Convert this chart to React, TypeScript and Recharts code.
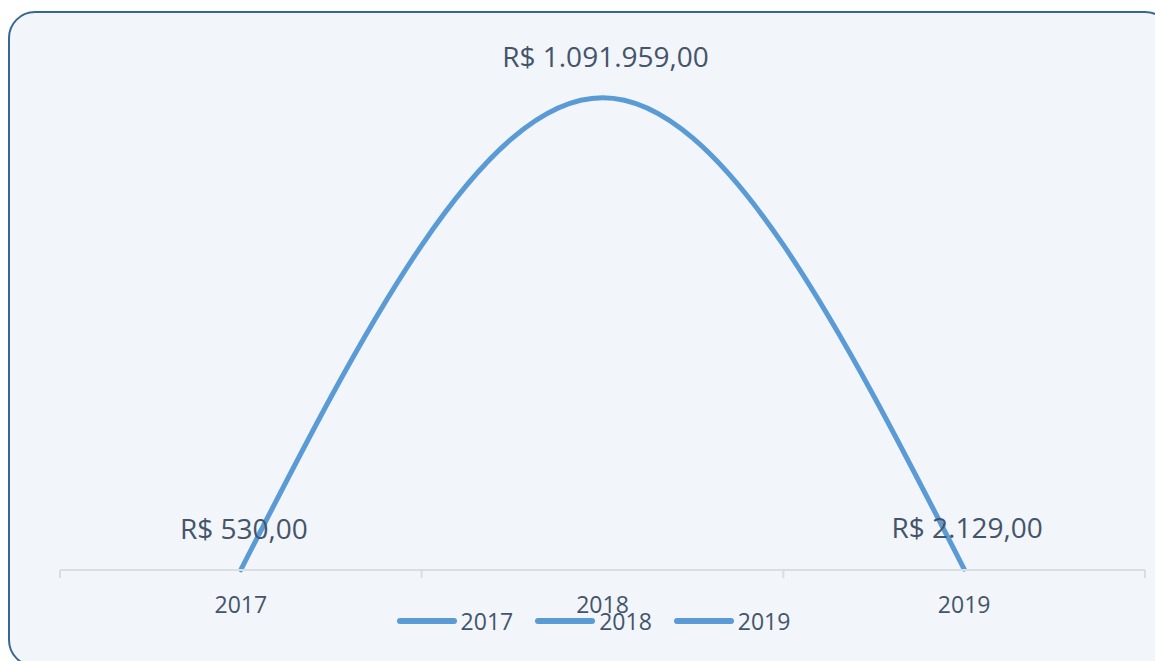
import { LineChart, Line, XAxis, YAxis, LabelList, Legend } from "recharts"

const years = ["2017", "2018", "2019"]
const values = [530, 1091959, 2129]
const yMax = 1200000

const data = years.map((year, i) => ({ x: i, year, value: values[i] }))

const LINE = "#5b9bd5"
const TEXT = "#44546a"
const FONT = "'Open Sans', 'Noto Sans', sans-serif"

const brl = (v: number) =>
  "R$ " + v.toLocaleString("pt-BR", { minimumFractionDigits: 2, maximumFractionDigits: 2 })

// ticks at category centres carry the labels, ticks at the half steps carry the tick marks
const tickValues = [-0.5, 0, 0.5, 1, 1.5, 2, 2.5]

function AxisTick(props: any) {
  const { x, y, payload } = props
  const v = payload.value as number
  if (Number.isInteger(v)) {
    return (
      <text x={x} y={y + 34} textAnchor="middle" dominantBaseline="central" fill={TEXT} fontSize={23} fontFamily={FONT}>
        {years[v]}
      </text>
    )
  }
  return <line x1={x} x2={x} y1={y} y2={y + 8} stroke="#d9dde4" strokeWidth={2} />
}

function ValueLabel(props: any) {
  const { x, y, value } = props
  return (
    <text x={x + 3} y={y - 42} textAnchor="middle" dominantBaseline="central" fill={TEXT} fontSize={28} fontFamily={FONT}>
      {brl(value)}
    </text>
  )
}

function LegendContent() {
  return (
    <div style={{ display: "flex", justifyContent: "center", alignItems: "center", height: 30, paddingRight: 18 }}>
      {years.map((y, i) => (
        <div key={y} style={{ display: "flex", alignItems: "center", marginRight: i < years.length - 1 ? 22 : 0 }}>
          <span style={{ display: "inline-block", width: 60, height: 6, borderRadius: 3, background: LINE }} />
          <span style={{ marginLeft: 4, fontSize: 23, color: TEXT, fontFamily: FONT }}>{y}</span>
        </div>
      ))}
    </div>
  )
}

export default function App() {
  return (
    <div style={{ position: "absolute", left: 0, top: 0, width: 1155, height: 661, overflow: "hidden", background: "#ffffff" }}>
      <div
        style={{
          position: "absolute",
          left: 8,
          top: 11,
          width: 1160,
          height: 652,
          border: "2.5px solid #3a6791",
          borderRadius: 27,
          background: "#f2f6fa",
        }}
      />
      <div style={{ position: "absolute", left: 0, top: 0 }}>
        <LineChart width={1155} height={661} data={data} margin={{ top: 51, right: 10, left: 60, bottom: 25 }}>
          <XAxis
            dataKey="x"
            type="number"
            domain={[-0.5, 2.5]}
            ticks={tickValues}
            interval={0}
            tickLine={false}
            tickSize={0}
            tickMargin={0}
            tick={<AxisTick />}
            axisLine={{ stroke: "#d9dde4", strokeWidth: 2 }}
            height={36}
          />
          <YAxis hide domain={[0, yMax]} />
          <Legend verticalAlign="bottom" height={30} content={<LegendContent />} />
          <Line
            type="natural"
            dataKey="value"
            stroke={LINE}
            strokeWidth={5}
            dot={false}
            isAnimationActive={false}
            strokeLinecap="round"
          >
            <LabelList dataKey="value" content={<ValueLabel />} />
          </Line>
        </LineChart>
      </div>
    </div>
  )
}
